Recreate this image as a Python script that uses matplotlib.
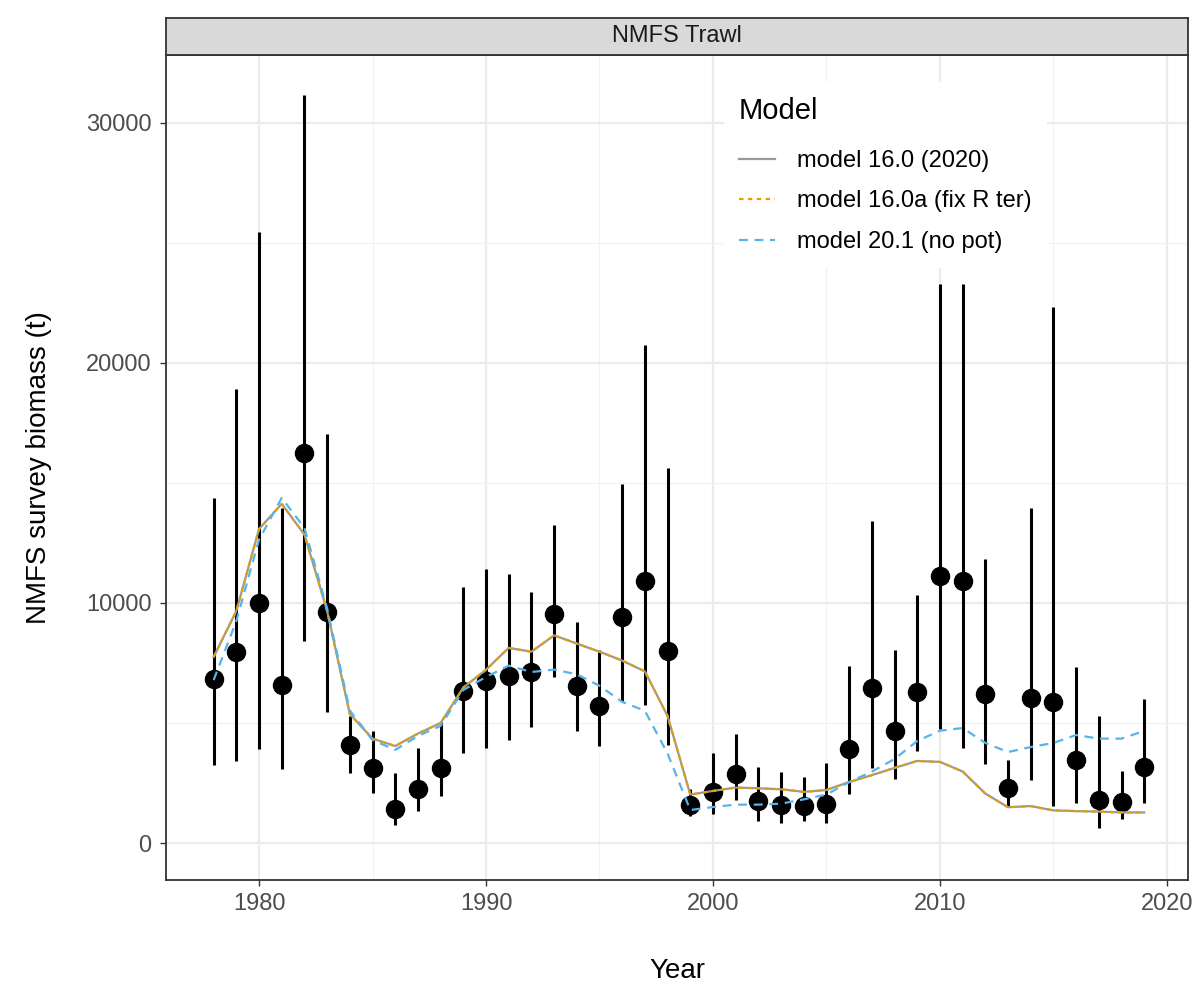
import numpy as np
import matplotlib
matplotlib.use("Agg")
import matplotlib.pyplot as plt
from matplotlib.ticker import MultipleLocator

plt.rcParams['font.family'] = ['Liberation Sans', 'DejaVu Sans']

years = list(range(1978, 2020))

# survey index (t) with lower / upper interval
obs = [6830, 7970, 9980, 6580, 16250, 9625, 4080, 3125, 1420, 2270,
       3125, 6330, 6750, 6960, 7125, 9560, 6550, 5690, 9430, 10920,
       8000, 1600, 2125, 2875, 1750, 1580, 1525, 1640, 3920, 6460,
       4650, 6310, 11130, 10920, 6220, 2290, 6050, 5890, 3470, 1800,
       1710, 3170]
lower = [3250, 3400, 3925, 3080, 8430, 5460, 2920, 2080, 750, 1330,
         1960, 3750, 3970, 4290, 4830, 6920, 4670, 4050, 5910, 5770,
         4100, 1125, 1210, 1790, 930, 850, 900, 830, 2040, 3125,
         2680, 3830, 4730, 3940, 3290, 1540, 2625, 1540, 1680, 625,
         1010, 1680]
# 2010 and 2011 upper ends are hidden behind the legend in the original
upper = [14380, 18920, 25460, 13960, 31180, 17040, 5310, 4670, 2925, 3970,
         5050, 10670, 11420, 11210, 10460, 13250, 9190, 8040, 14960, 20730,
         15630, 2250, 3770, 4540, 3175, 2960, 2730, 3330, 7375, 13420,
         8040, 10350, 23300, 23300, 11830, 3470, 13940, 22350, 7330, 5310,
         2980, 6010]

m160 = [7750, 9670, 13080, 14130, 12850, 9670, 5375, 4350, 4040, 4560,
        5000, 6475, 7220, 8130, 7970, 8650, 8310, 7970, 7600, 7150,
        5290, 2020, 2170, 2310, 2280, 2240, 2130, 2210, 2540, 2830,
        3130, 3420, 3380, 2980, 2060, 1490, 1540, 1360, 1330, 1310,
        1275, 1275]
m160a = [7750, 9670, 13080, 14130, 12850, 9670, 5375, 4350, 4040, 4560,
         5000, 6475, 7220, 8130, 7970, 8650, 8310, 7970, 7600, 7150,
         5290, 2020, 2170, 2310, 2280, 2240, 2130, 2210, 2540, 2830,
         3130, 3420, 3380, 2980, 2060, 1490, 1540, 1360, 1330, 1310,
         1275, 1275]
m201 = [6790, 9250, 12640, 14380, 13130, 9770, 5520, 4290, 3880, 4460,
        4880, 6375, 6920, 7390, 7125, 7225, 7030, 6550, 5880, 5510,
        3725, 1375, 1500, 1600, 1600, 1640, 1820, 2020, 2540, 2975,
        3500, 4250, 4680, 4790, 4170, 3790, 4000, 4170, 4500, 4350,
        4350, 4670]

model_names = ['model 16.0 (2020)', 'model 16.0a (fix R ter)', 'model 20.1 (no pot)']

fig = plt.figure(figsize=(12.01, 9.85), dpi=100)
ax = fig.add_axes([0.1382, 0.1066, 0.851, 0.8376])

yerr = [np.array(obs) - np.array(lower), np.array(upper) - np.array(obs)]
ax.errorbar(years, obs, yerr=yerr, fmt='o', color='black', ms=13,
            elinewidth=2.2, capsize=0, zorder=3)

ax.plot(years, m160, color='#999999', lw=1.6, ls='-', label=model_names[0], zorder=4)
ax.plot(years, m160a, color='#E69F00', lw=1.6, ls=(0, (2, 2)), label=model_names[1], zorder=5)
ax.plot(years, m201, color='#56B4E9', lw=1.6, ls=(0, (4, 3)), label=model_names[2], zorder=6)

ax.set_xlim(1975.9, 2020.93)
ax.set_ylim(-1540, 32830)
ax.xaxis.set_major_locator(MultipleLocator(10))
ax.xaxis.set_minor_locator(MultipleLocator(5))
ax.yaxis.set_major_locator(MultipleLocator(10000))
ax.yaxis.set_minor_locator(MultipleLocator(5000))
ax.grid(which='major', color='#EBEBEB', lw=1.6)
ax.grid(which='minor', color='#F2F2F2', lw=0.9)
ax.set_axisbelow(True)
ax.tick_params(which='minor', length=0)
ax.tick_params(which='major', length=4, width=1, color='#333333',
               labelsize=17, labelcolor='#4D4D4D')
ax.tick_params(axis='x', pad=5.5)
ax.tick_params(axis='y', pad=6.5)
for s in ax.spines.values():
    s.set_color('#333333')
    s.set_linewidth(1.3)

ax.set_xlabel('Year', fontsize=20, labelpad=31)
ax.set_ylabel('NMFS survey biomass (t)', fontsize=20, labelpad=24)

# facet strip
strip = fig.add_axes([0.1382, 0.9442, 0.851, 0.0376])
strip.set_facecolor('#D9D9D9')
strip.set_xticks([])
strip.set_yticks([])
for s in strip.spines.values():
    s.set_color('#333333')
    s.set_linewidth(1.3)
strip.text(0.5, 0.5, 'NMFS Trawl', ha='center', va='center', fontsize=17,
           color='#1A1A1A', transform=strip.transAxes)

leg = ax.legend(loc='upper left', bbox_to_anchor=(0.534, 0.982), title='Model',
                fontsize=17, title_fontsize=21, frameon=True, framealpha=1,
                facecolor='white', edgecolor='none', fancybox=False,
                handlelength=1.53, handletextpad=0.95, labelspacing=0.78,
                alignment='left', borderpad=0.65)
leg._legend_box.sep = 18
leg.set_zorder(10)

fig.savefig('out.png', dpi=100)
